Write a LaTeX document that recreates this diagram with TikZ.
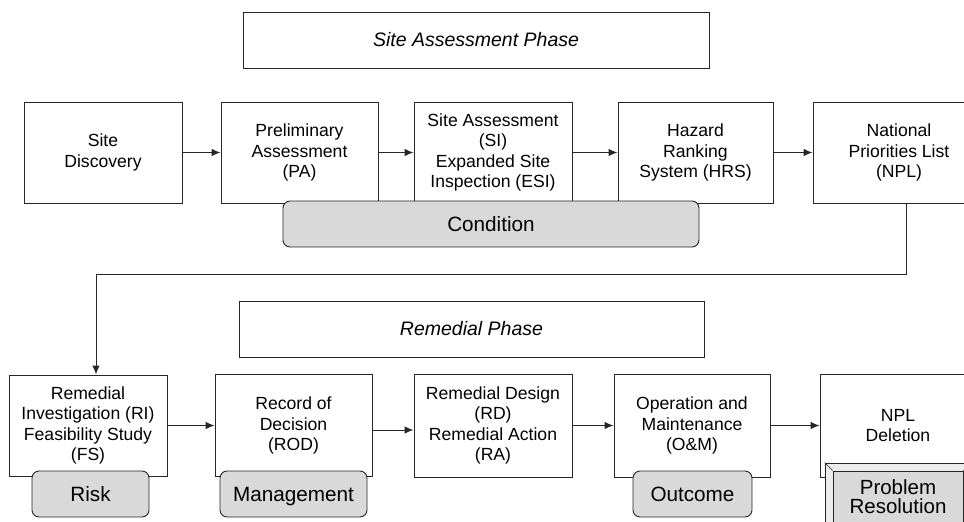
\documentclass[tikz,border=0pt]{standalone}
\usepackage{fontspec}
\setmainfont{Liberation Sans}
\usetikzlibrary{arrows.meta}
\definecolor{labelgray}{HTML}{D9D9D9}
\definecolor{bevelgray}{HTML}{ECECEC}
\definecolor{inkgray}{HTML}{262626}
\begin{document}
\begin{tikzpicture}[x=1pt,y=-1pt,
  stagebox/.style={draw=inkgray, line width=1pt, fill=white, align=center,
    inner sep=2pt, text=black,
    font=\fontsize{17.6}{20.6}\selectfont},
  phasebox/.style={draw=inkgray, line width=1pt, fill=white,
    font=\fontsize{19.5}{22}\selectfont\itshape},
  tagbox/.style={draw=inkgray, line width=0.9pt, fill=labelgray,
    rounded corners=7pt, minimum height=46pt, align=center,
    text height=15.5pt, text depth=0pt,
    font=\fontsize{20.7}{19.5}\selectfont},
  flow/.style={draw=inkgray, line width=1pt, -{Latex[length=9pt,width=7.5pt]}},
  link/.style={draw=inkgray, line width=1pt}]
\useasboundingbox (0,0) rectangle (964,522);

% phase titles
\node[phasebox, minimum width=466pt, minimum height=56pt] (t1) at (476,40) {Site Assessment Phase};
\node[phasebox, minimum width=465pt, minimum height=56pt] (t2) at (471.5,329) {Remedial Phase};

% site assessment stages
\node[stagebox, minimum width=158pt, minimum height=101pt] (sd) at (103,152.5) {Site\\Discovery};
\node[stagebox, minimum width=157pt, minimum height=101pt] (pa) at (299.5,152.5) {Preliminary\\Assessment\\(PA)};
\node[stagebox, minimum width=158pt, minimum height=101pt] (si) at (493,152.5) {Site Assessment\\(SI)\\Expanded Site\\Inspection (ESI)};
\node[stagebox, minimum width=155pt, minimum height=101pt] (hrs) at (695.5,152.5) {Hazard\\Ranking\\System (HRS)};
\node[stagebox, minimum width=172pt, minimum height=101pt] (npl) at (899,152.5) {National\\Priorities List\\(NPL)};

% remedial stages
\node[stagebox, minimum width=158pt, minimum height=101pt] (ri) at (88,425.5) {Remedial\\Investigation (RI)\\Feasibility Study\\(FS)};
\node[stagebox, minimum width=157pt, minimum height=102pt] (rod) at (293.5,425.5) {Record of\\Decision\\(ROD)};
\node[stagebox, minimum width=158pt, minimum height=103pt] (rd) at (493,425.5) {Remedial Design\\(RD)\\Remedial Action\\(RA)};
\node[stagebox, minimum width=156pt, minimum height=103pt] (om) at (692,425.5) {Operation and\\Maintenance\\(O\&M)};
\node[stagebox, minimum width=156pt, minimum height=103pt] (del) at (898,425.5) {NPL\\Deletion};

% flow arrows
\draw[flow] (sd) -- (pa);
\draw[flow] (pa) -- (si);
\draw[flow] (si) -- (hrs);
\draw[flow] (hrs) -- (npl);
\coordinate (bend) at (906,274);
\coordinate (drop) at (96,274);
\draw[link] (npl.south -| bend) -- (bend) -- (drop);
\draw[flow] (drop) -- (ri.north -| drop);
\draw[flow] (ri) -- (rod);
\draw[flow] (rod.east |- 0,430) -- (rd.west |- 0,430);
\draw[flow] (rd) -- (om);
\draw[flow] (om) -- (del);

% category tags
\node[tagbox, minimum width=416pt] (cond) at (491,224) {Condition};
\node[tagbox, minimum width=117pt] (risk) at (90.5,494) {Risk};
\node[tagbox, minimum width=147pt] (mgmt) at (293.5,494) {Management};
\node[tagbox, minimum width=119pt] (outc) at (692.5,494) {Outcome};

% bevelled button
\node[draw=inkgray, line width=0.9pt, fill=bevelgray, minimum width=146pt, minimum height=67pt] (prframe) at (898,496.5) {};
\node[draw=inkgray, line width=0.9pt, fill=labelgray, minimum width=130pt, minimum height=51pt, align=center,
  font=\fontsize{20.5}{19.5}\selectfont] (pr) at (898,496.5) {Problem\\Resolution};
\draw[inkgray, line width=0.7pt] (prframe.north west) -- (pr.north west);
\draw[inkgray, line width=0.7pt] (prframe.north east) -- (pr.north east);
\draw[inkgray, line width=0.7pt] (prframe.south west) -- (pr.south west);
\end{tikzpicture}
\end{document}
